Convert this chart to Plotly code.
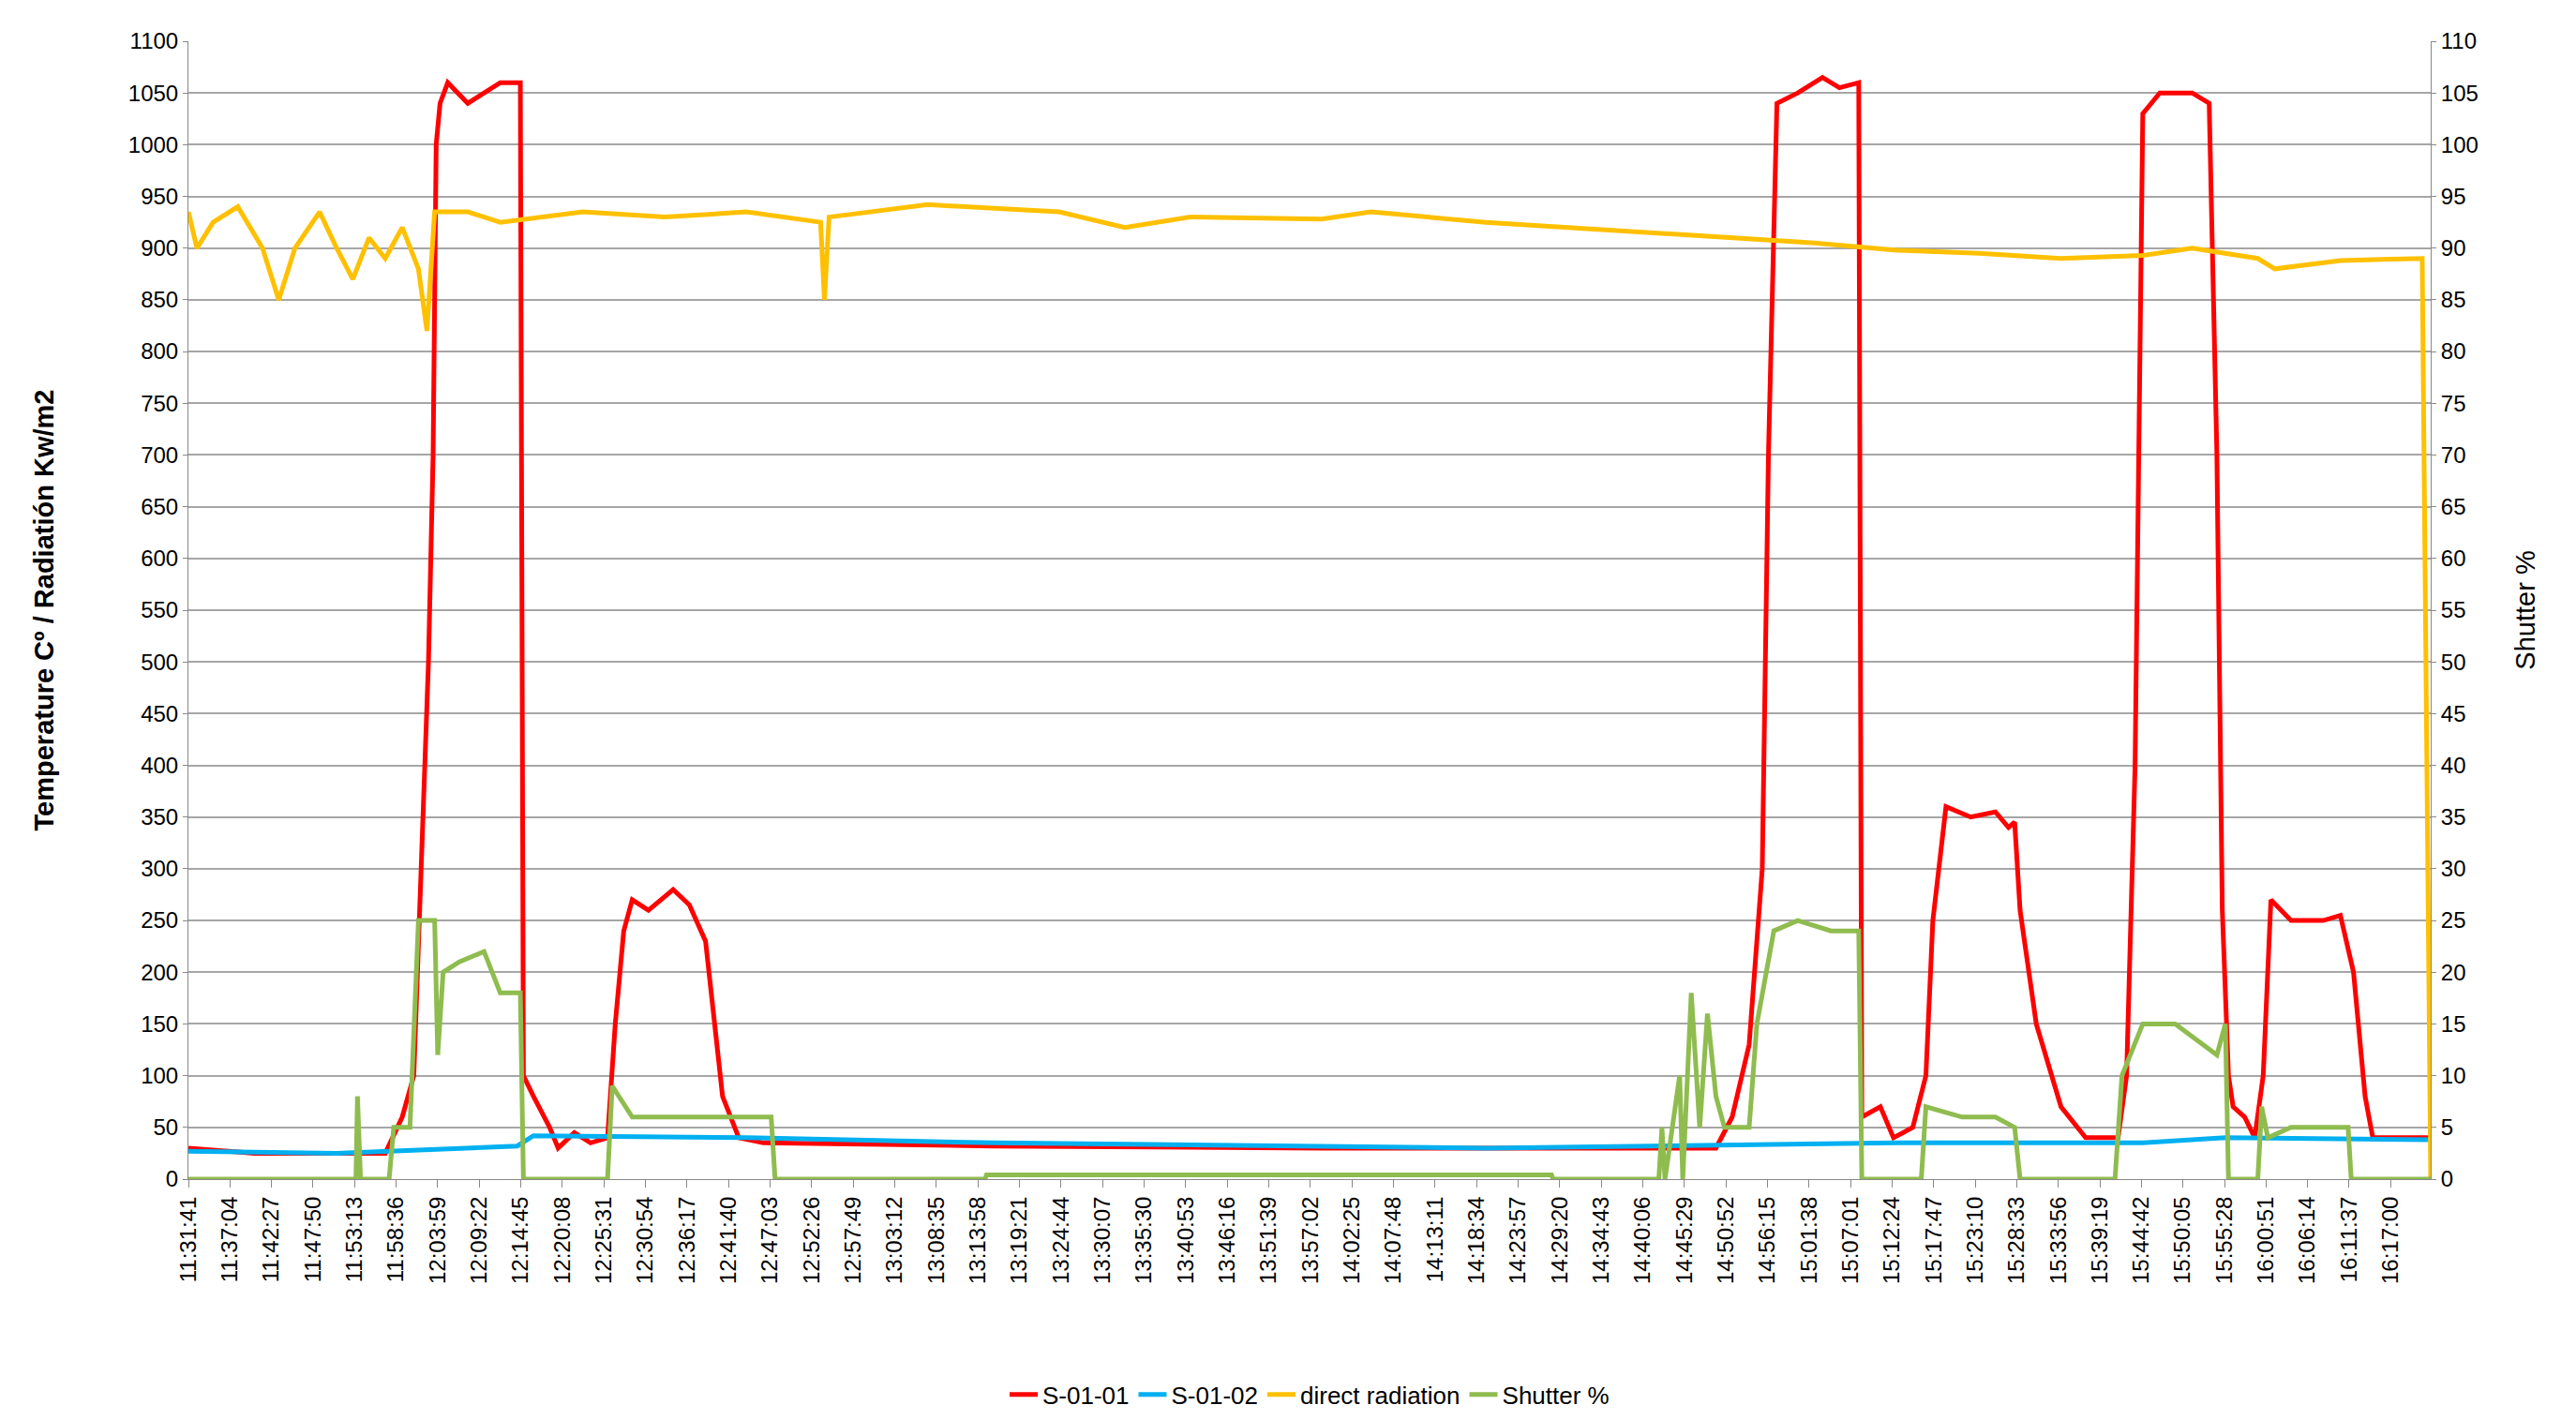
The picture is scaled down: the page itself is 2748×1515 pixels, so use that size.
import plotly.graph_objects as go

tick_labels = ["11:31:41","11:37:04","11:42:27","11:47:50","11:53:13","11:58:36","12:03:59","12:09:22","12:14:45","12:20:08","12:25:31","12:30:54","12:36:17","12:41:40","12:47:03","12:52:26","12:57:49","13:03:12","13:08:35","13:13:58","13:19:21","13:24:44","13:30:07","13:35:30","13:40:53","13:46:16","13:51:39","13:57:02","14:02:25","14:07:48","14:13:11","14:18:34","14:23:57","14:29:20","14:34:43","14:40:06","14:45:29","14:50:52","14:56:15","15:01:38","15:07:01","15:12:24","15:17:47","15:23:10","15:28:33","15:33:56","15:39:19","15:44:42","15:50:05","15:55:28","16:00:51","16:06:14","16:11:37","16:17:00"]
tick_step_min = 323/60

# elapsed minutes since 11:31:41
red_t = [0,8.5,25.5,27.7,29.2,30.2,31.1,31.7,32.1,32.6,33.6,36.2,38.3,40.4,43.0,43.4,44.7,46.8,47.9,50.0,52.1,54.3,55.3,56.4,57.5,59.6,62.8,64.9,67.0,68.1,69.2,71.3,74.5,104.3,146.8,178.8,197.9,200.0,202.2,203.9,204.7,205.8,208.5,211.7,213.9,216.4,216.8,219.2,220.9,223.4,225.1,226.0,227.7,230.9,234.1,235.8,236.6,237.3,239.4,242.6,245.8,250.0,251.1,252.2,253.2,255.4,259.6,261.8,262.8,263.5,264.3,264.9,266.4,267.7,268.8,269.8,272.4,276.6,278.8,280.5,282.0,283.0,290.5]
red_v = [30,25,25,60,100,300,500,700,1000,1040,1060,1040,1050,1060,1060,100,80,50,30,45,35,40,150,240,270,260,280,265,230,150,80,40,35,32,30,30,30,60,130,300,700,1040,1050,1065,1055,1060,60,70,40,50,100,250,360,350,355,340,345,260,150,70,40,40,100,400,1030,1050,1050,1040,700,260,100,70,60,40,100,270,250,250,255,200,80,40,40]

blue_t = [0,19.2,29.8,42.6,44.7,72.3,104.3,168.2,221.3,253.2,263.9,290.5]
blue_v = [27,25,28,32,42,40,35,30,35,35,40,38]

rad_t = [0,1.1,3.2,6.4,9.6,11.7,13.8,17.0,19.2,21.3,23.4,25.5,27.7,29.8,30.9,31.9,36.2,40.4,51.1,61.7,72.3,81.9,82.4,83.0,95.8,112.8,121.3,129.8,146.8,153.2,168.1,178.8,189.4,210.7,221.3,232.0,242.6,253.2,259.6,268.1,270.3,278.8,289.4,290.5]
rad_v = [935,900,925,940,900,850,900,935,900,870,910,890,920,880,820,935,935,925,935,930,935,925,850,930,942,935,920,930,928,935,925,920,915,905,898,895,890,893,900,890,880,888,890,0]

sh_t = [0,21.7,21.9,22.3,26.0,26.6,28.7,29.8,31.9,32.3,33.0,35.1,38.3,40.4,43.0,43.4,54.3,54.9,57.5,75.5,76.0,103.2,103.4,176.6,176.8,190.5,190.9,191.3,193.2,193.6,194.7,195.8,196.8,197.9,199.0,202.2,203.2,205.4,208.5,212.8,216.4,216.8,224.5,225.1,229.8,234.1,236.6,237.3,249.6,250.5,253.2,257.4,262.8,263.9,264.3,268.1,268.6,269.4,272.4,279.8,280.2,290.5]
sh_v = [0,0,8,0,0,5,5,25,25,12,20,21,22,18,18,0,0,9,6,6,0,0,0.4,0.4,0,0,5,0,10,0,18,5,16,8,5,5,15,24,25,24,24,0,0,7,6,6,5,0,0,10,15,15,12,15,0,0,7,4,5,5,0,0]

W = 5
fig = go.Figure()
fig.add_trace(go.Scatter(x=red_t, y=red_v, name="S-01-01", mode="lines", line=dict(color="#ff0000", width=W)))
fig.add_trace(go.Scatter(x=blue_t, y=blue_v, name="S-01-02", mode="lines", line=dict(color="#00b0f0", width=W)))
fig.add_trace(go.Scatter(x=rad_t, y=rad_v, name="direct radiation", mode="lines", line=dict(color="#ffc000", width=W)))
fig.add_trace(go.Scatter(x=sh_t, y=sh_v, name="Shutter %", mode="lines", line=dict(color="#8fbc4f", width=W), yaxis="y2"))

font = "Liberation Sans"
fig.update_layout(
    width=2748, height=1515, autosize=False,
    paper_bgcolor="white", plot_bgcolor="white",
    margin=dict(l=193, r=163, t=36, b=227),
    font=dict(family=font, size=24, color="black"),
    xaxis=dict(range=[0, 290.5], tickvals=[i*tick_step_min for i in range(len(tick_labels))],
               ticktext=tick_labels, tickangle=-90, showgrid=False, showline=True,
               linecolor="#888", ticks="outside", tickcolor="#888", ticklen=8, zeroline=False),
    yaxis=dict(range=[0, 1100], dtick=50, showgrid=True, gridcolor="#a6a6a6", gridwidth=2,
               showline=True, linecolor="#888", ticks="outside", tickcolor="#888", zeroline=False,
               title=dict(text="<b>Temperature Cº / Radiatión Kw/m2</b>", standoff=70)),
    yaxis2=dict(range=[0, 110], dtick=5, overlaying="y", side="right", showgrid=False,
                showline=True, linecolor="#888", ticks="outside", tickcolor="#888", zeroline=False,
                title=dict(text="Shutter %", standoff=40)),
    legend=dict(orientation="h", x=0.5, xanchor="center", y=-0.17, yanchor="top",
                font=dict(size=26)),
)
fig.write_html("out.html")
